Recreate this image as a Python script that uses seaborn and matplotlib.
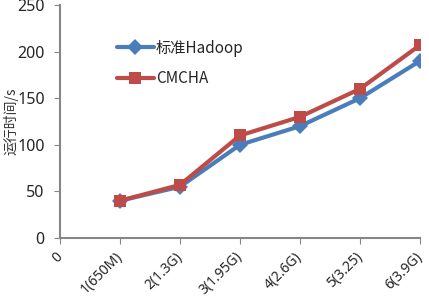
import numpy as np
import pandas as pd
import matplotlib
matplotlib.use("Agg")
import matplotlib.pyplot as plt
import seaborn as sns

# 数据
x_labels = ["0", "1(650M)", "2(1.3G)", "3(1.95G)", "4(2.6G)", "5(3.25)", "6(3.9G)"]
x_pos = [1, 2, 3, 4, 5, 6]
hadoop = [40, 55, 100, 120, 150, 190]
cmcha = [40, 57, 110, 130, 160, 207]

sns.set_style("white")
plt.rcParams["font.family"] = ["Noto Sans CJK SC", "DejaVu Sans"]

df = pd.concat([
    pd.DataFrame({"x": x_pos, "y": hadoop, "group": "标准Hadoop"}),
    pd.DataFrame({"x": x_pos, "y": cmcha, "group": "CMCHA"}),
], ignore_index=True)

fig = plt.figure(figsize=(4.29, 3.01), dpi=100)
ax = fig.add_axes([60/429, 1 - 238/301, 360/429, 233/301])

sns.lineplot(data=df, x="x", y="y", hue="group", style="group",
             palette={"标准Hadoop": "#4a7ebb", "CMCHA": "#be4b48"},
             markers={"标准Hadoop": "D", "CMCHA": "s"}, dashes=False,
             linewidth=3, markersize=8, markeredgewidth=0, ax=ax)

ax.set_xlim(0, 6)
ax.set_ylim(0, 250)
ax.set_xticks(range(7))
ax.set_xticklabels(x_labels, rotation=45, ha="right", va="center", rotation_mode="anchor",
                   fontsize=10, family="Noto Sans")
ax.set_yticks(range(0, 251, 50))
ax.set_yticklabels([str(v) for v in range(0, 251, 50)], family="Noto Sans")
ax.tick_params(axis="y", labelsize=11.5, length=4, color="#868686", direction="out", left=True, pad=7)
ax.tick_params(axis="x", length=4, color="#868686", direction="out", bottom=True, pad=8)
ax.set_xlabel("")
ax.set_ylabel("运行时间/s", fontsize=10, color="#333333")
ax.yaxis.set_label_coords(-0.115, 0.5)

for s in ["top", "right"]:
    ax.spines[s].set_visible(False)
for s in ["left", "bottom"]:
    ax.spines[s].set_color("#868686")
    ax.spines[s].set_linewidth(1.5)

ax.legend(title=None, frameon=False, loc="upper left", bbox_to_anchor=(0.12, 0.91),
          fontsize=11, handlelength=2.4, labelspacing=0.9, handletextpad=0.15)

fig.savefig("out.png", dpi=100)
